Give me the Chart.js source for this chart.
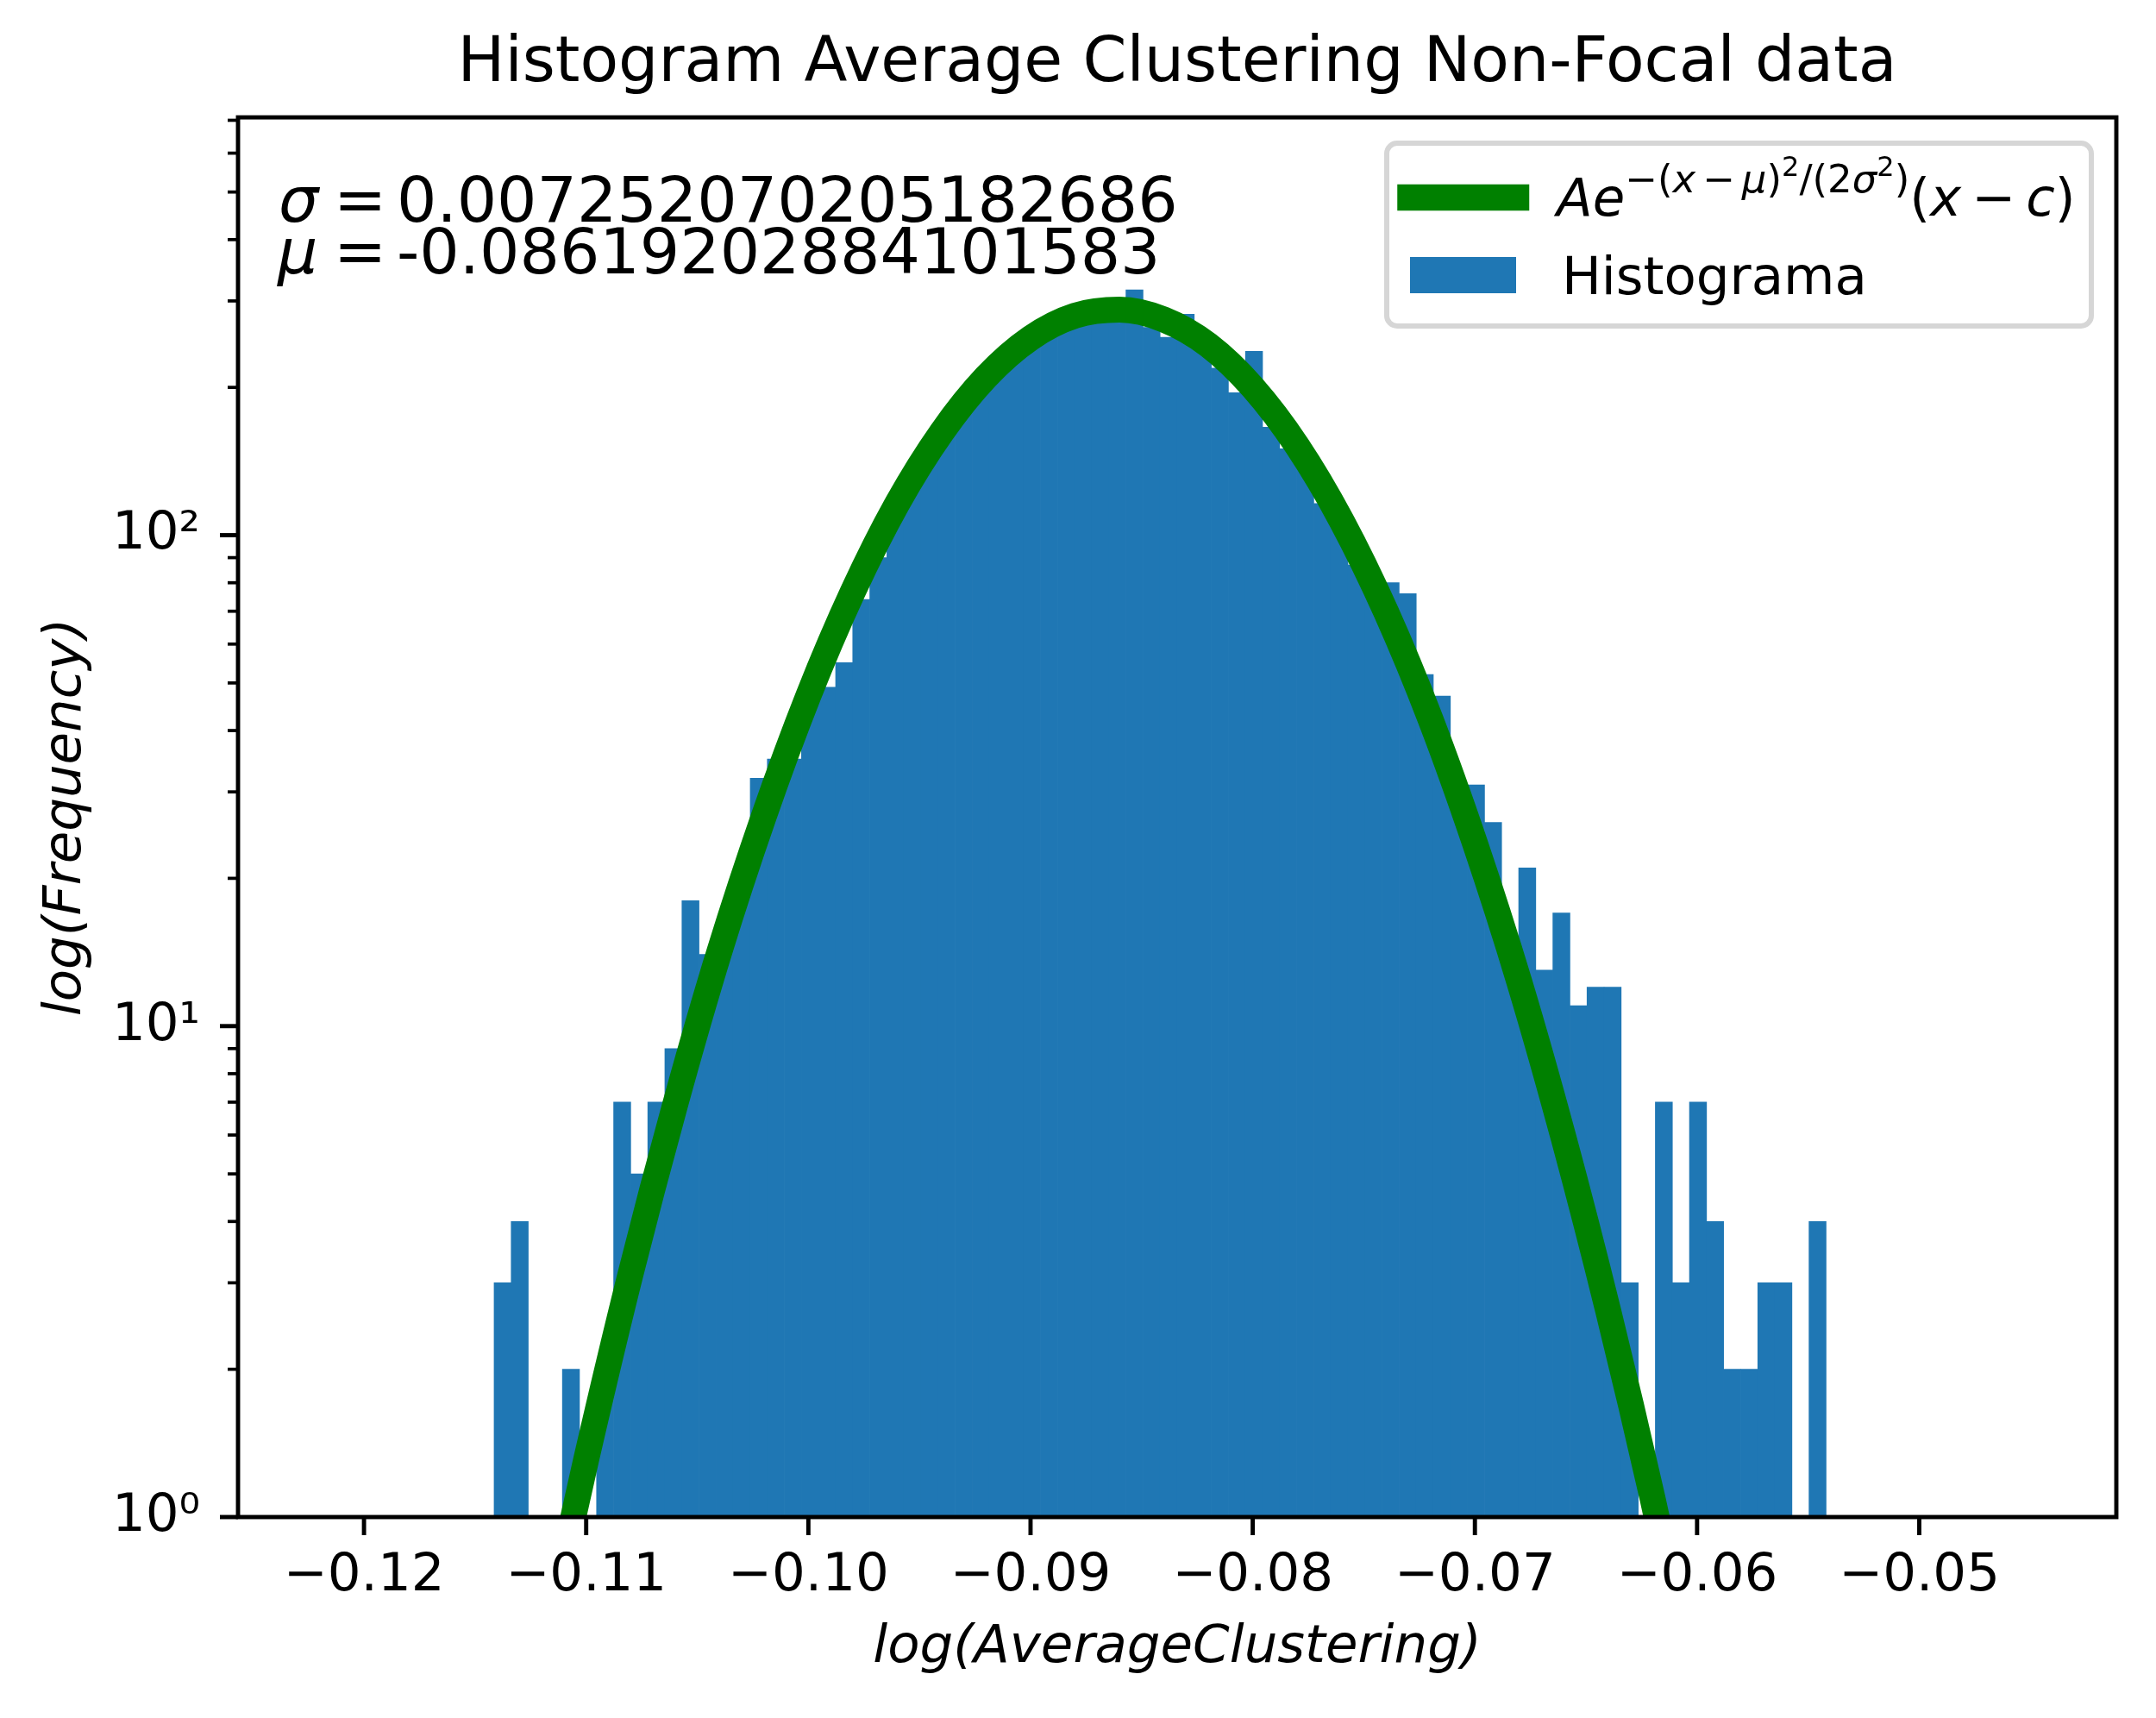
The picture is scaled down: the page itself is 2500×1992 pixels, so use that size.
<!DOCTYPE html>
<html>
<head>
<meta charset="utf-8">
<title>Histogram Average Clustering Non-Focal data</title>
<script src="https://cdn.jsdelivr.net/npm/chart.js@4.4.1/dist/chart.umd.min.js"></script>
<style>
  html, body { margin: 0; padding: 0; background: #ffffff; }
  #wrap { width: 2500px; height: 1992px; }
</style>
</head>
<body>
<div id="wrap"><canvas id="chart" width="2500" height="1992"></canvas></div>
<script>
// Histogram (100 bins over binRange), counts
const binRange = [-0.12183, -0.04497];
const counts = [
    0, 0, 0, 0, 0, 0, 0, 0, 0, 0,
    3, 4, 0, 0, 2, 0, 2, 7, 5, 7,
    9, 18, 14, 15, 20, 32, 35, 35, 47, 49,
    55, 74, 90, 114, 131, 148, 167, 185, 204, 221,
    238, 252, 265, 275, 283, 287, 288, 316, 265, 253,
    282, 249, 219, 195, 237, 166, 150, 144, 116, 109,
    87, 80, 80, 76, 52, 47, 30, 31, 26, 15,
    21, 13, 17, 11, 12, 12, 3, 0, 7, 3,
    7, 4, 2, 2, 3, 3, 0, 4, 0, 0,
    0, 0, 0, 0, 0, 0, 0, 0, 0, 0
];

// Fitted curve, points (runs past the axis bottom so it is cut flat)
const fitX = [-0.1115, -0.110, -0.108, -0.106, -0.104, -0.102, -0.100, -0.098, -0.096,
              -0.094, -0.092, -0.090, -0.088, -0.086, -0.084, -0.082, -0.080, -0.078,
              -0.076, -0.074, -0.072, -0.070, -0.068, -0.066, -0.064, -0.062, -0.0605];
const fitY = [0.65, 1.31, 3.13, 6.91, 14.2, 26.8, 47.1, 76.7, 116,
              162, 210, 252, 280, 288, 275, 244, 200, 152,
              107, 69.8, 42.2, 23.6, 12.3, 5.9, 2.63, 1.09, 0.53];

// Axes
const xLimits = [-0.12567, -0.04113];
const yLimits = [1, 709.6];
const xTicks = [-0.12, -0.11, -0.10, -0.09, -0.08, -0.07, -0.06, -0.05];
const yMajor = [1, 10, 100];
const yLabels = ['10\u2070', '10\u00B9', '10\u00B2'];
const yMinor = [2, 3, 4, 5, 6, 7, 8, 9, 20, 30, 40, 50, 60, 70, 80, 90, 200, 300, 400, 500, 600, 700];

// Texts
const titleText = 'Histogram Average Clustering Non-Focal data';
const xTitle = 'log(AverageClustering)';
const yTitle = 'log(Frequency)';
const sigmaText = '0.007252070205182686';
const muText = '-0.08619202884101583';
const histLabel = 'Histograma';

const FAMILY = "'DejaVu Sans', sans-serif";
const BLUE = '#1f77b4';
const GREEN = '#008000';

const binWidth = (binRange[1] - binRange[0]) / counts.length;
const histPoints = counts.map((c, i) => ({ x: binRange[0] + (i + 0.5) * binWidth, y: c > 0 ? c : null }));
const fitPoints = fitX.map((x, i) => ({ x: x, y: fitY[i] }));

// draws a row of text pieces (used for the mathtext-like legend label)
function drawRuns(ctx, runs, x, y) {
    let cx = x;
    runs.forEach(r => {
        if (r.gap) { cx += r.gap; return; }
        ctx.font = (r.italic ? 'italic ' : '') + r.size + 'px ' + FAMILY;
        ctx.fillText(r.t, cx, y + (r.dy || 0));
        cx += ctx.measureText(r.t).width;
    });
    return cx;
}

const S = 61, S1 = 45, S2 = 32;
const fitLabelRuns = [
    { t: 'A', size: S, italic: true },
    { t: 'e', size: S, italic: true },
    { t: '\u2212', size: S1, dy: -27 },
    { t: '(', size: S1, dy: -27 },
    { t: 'x', size: S1, dy: -27, italic: true },
    { gap: 8 },
    { t: '\u2212', size: S1, dy: -27 },
    { gap: 8 },
    { t: '\u03BC', size: S1, dy: -27, italic: true },
    { t: ')', size: S1, dy: -27 },
    { t: '2', size: S2, dy: -46 },
    { t: '/', size: S1, dy: -27 },
    { t: '(', size: S1, dy: -27 },
    { t: '2', size: S1, dy: -27 },
    { t: '\u03C3', size: S1, dy: -27, italic: true },
    { t: '2', size: S2, dy: -46 },
    { t: ')', size: S1, dy: -27 },
    { t: '(', size: S },
    { t: 'x', size: S, italic: true },
    { gap: 12 },
    { t: '\u2212', size: S },
    { gap: 12 },
    { t: 'c', size: S, italic: true },
    { t: ')', size: S }
];

const decorPlugin = {
    id: 'decor',
    afterDatasetsDraw(chart) {
        const { ctx, chartArea: a, scales: { x, y } } = chart;
        ctx.save();
        ctx.strokeStyle = '#000';
        ctx.lineCap = 'butt';
        const seg = (x1, y1, x2, y2) => { ctx.beginPath(); ctx.moveTo(x1, y1); ctx.lineTo(x2, y2); ctx.stroke(); };

        // ticks
        ctx.lineWidth = 4.9;
        xTicks.forEach(v => { const p = x.getPixelForValue(v); seg(p, a.bottom, p, a.bottom + 21); });
        yMajor.forEach(v => { const p = y.getPixelForValue(v); seg(a.left - 21, p, a.left, p); });
        ctx.lineWidth = 3.7;
        yMinor.forEach(v => { const p = y.getPixelForValue(v); seg(a.left - 12, p, a.left, p); });

        // frame
        ctx.lineWidth = 4.9;
        ctx.strokeRect(a.left, a.top, a.right - a.left, a.bottom - a.top);

        // sigma / mu annotation
        ctx.fillStyle = '#000';
        ctx.textBaseline = 'alphabetic';
        ctx.textAlign = 'left';
        const tx = a.left + 47;
        ctx.font = 'italic 73px ' + FAMILY;
        ctx.fillText('\u03C3', tx, 257);
        ctx.fillText('\u03BC', tx - 1, 317);
        ctx.font = '73px ' + FAMILY;
        ctx.fillText('=', tx + 64, 257);
        ctx.fillText('=', tx + 64, 317);
        ctx.fillText(sigmaText, tx + 137, 257);
        ctx.fillText(muText, tx + 137, 317);

        // legend
        const lx = 1608, ly = 166, lw = 817, lh = 212;
        ctx.beginPath();
        ctx.roundRect(lx, ly, lw, lh, 12);
        ctx.fillStyle = 'rgba(255,255,255,0.8)';
        ctx.fill();
        ctx.lineWidth = 6;
        ctx.strokeStyle = '#d6d6d6';
        ctx.stroke();

        ctx.strokeStyle = GREEN;
        ctx.lineWidth = 30.5;
        ctx.lineCap = 'square';
        seg(1635.5, 229, 1758, 229);
        ctx.fillStyle = BLUE;
        ctx.fillRect(1635, 298, 123, 42);

        ctx.fillStyle = '#000';
        drawRuns(ctx, fitLabelRuns, 1805, 250);
        ctx.font = '61px ' + FAMILY;
        ctx.fillText(histLabel, 1811, 341);
        ctx.restore();
    }
};

const tickFont = { family: FAMILY, size: 61 };

new Chart(document.getElementById('chart'), {
    type: 'bar',
    data: {
        datasets: [
            {
                type: 'line',
                label: 'fit',
                data: fitPoints,
                borderColor: GREEN,
                borderWidth: 30,
                borderCapStyle: 'butt',
                borderJoinStyle: 'round',
                pointRadius: 0,
                fill: false,
                cubicInterpolationMode: 'monotone',
                clip: 0,
                order: 0
            },
            {
                type: 'bar',
                label: histLabel,
                data: histPoints,
                backgroundColor: BLUE,
                borderWidth: 0,
                barPercentage: 1,
                categoryPercentage: 1,
                order: 1
            }
        ]
    },
    options: {
        responsive: false,
        devicePixelRatio: 1,
        animation: false,
        layout: { padding: { top: 31, right: 46, left: 0, bottom: 0 } },
        plugins: {
            legend: { display: false },
            tooltip: { enabled: false },
            title: {
                display: true,
                text: titleText,
                fullSize: false,
                color: '#000',
                font: { family: FAMILY, size: 73, weight: 'normal' },
                padding: { top: 0, bottom: 17.5 }
            }
        },
        scales: {
            x: {
                type: 'linear',
                min: xLimits[0],
                max: xLimits[1],
                offset: false,
                grid: { display: false, drawTicks: false },
                border: { display: false },
                afterBuildTicks: s => { s.ticks = xTicks.map(v => ({ value: v })); },
                afterFit: s => { s.height = 233; },
                ticks: {
                    autoSkip: false,
                    maxRotation: 0,
                    padding: 33,
                    color: '#000',
                    font: tickFont,
                    callback: v => v.toFixed(2).replace('-', '\u2212')
                },
                title: {
                    display: true,
                    text: xTitle,
                    color: '#000',
                    font: { family: FAMILY, size: 61, style: 'italic' },
                    padding: { top: 0, bottom: 44 }
                }
            },
            y: {
                type: 'logarithmic',
                min: yLimits[0],
                max: yLimits[1],
                grid: { display: false, drawTicks: false },
                border: { display: false },
                afterBuildTicks: s => { s.ticks = yMajor.map(v => ({ value: v })); },
                afterFit: s => { s.width = 276; },
                ticks: {
                    autoSkip: false,
                    padding: 44,
                    color: '#000',
                    font: tickFont,
                    callback: v => yLabels[yMajor.indexOf(v)]
                },
                title: {
                    display: true,
                    text: yTitle,
                    color: '#000',
                    font: { family: FAMILY, size: 61, style: 'italic' },
                    padding: { top: 41, bottom: 0 }
                }
            }
        }
    },
    plugins: [decorPlugin]
});
</script>
</body>
</html>
